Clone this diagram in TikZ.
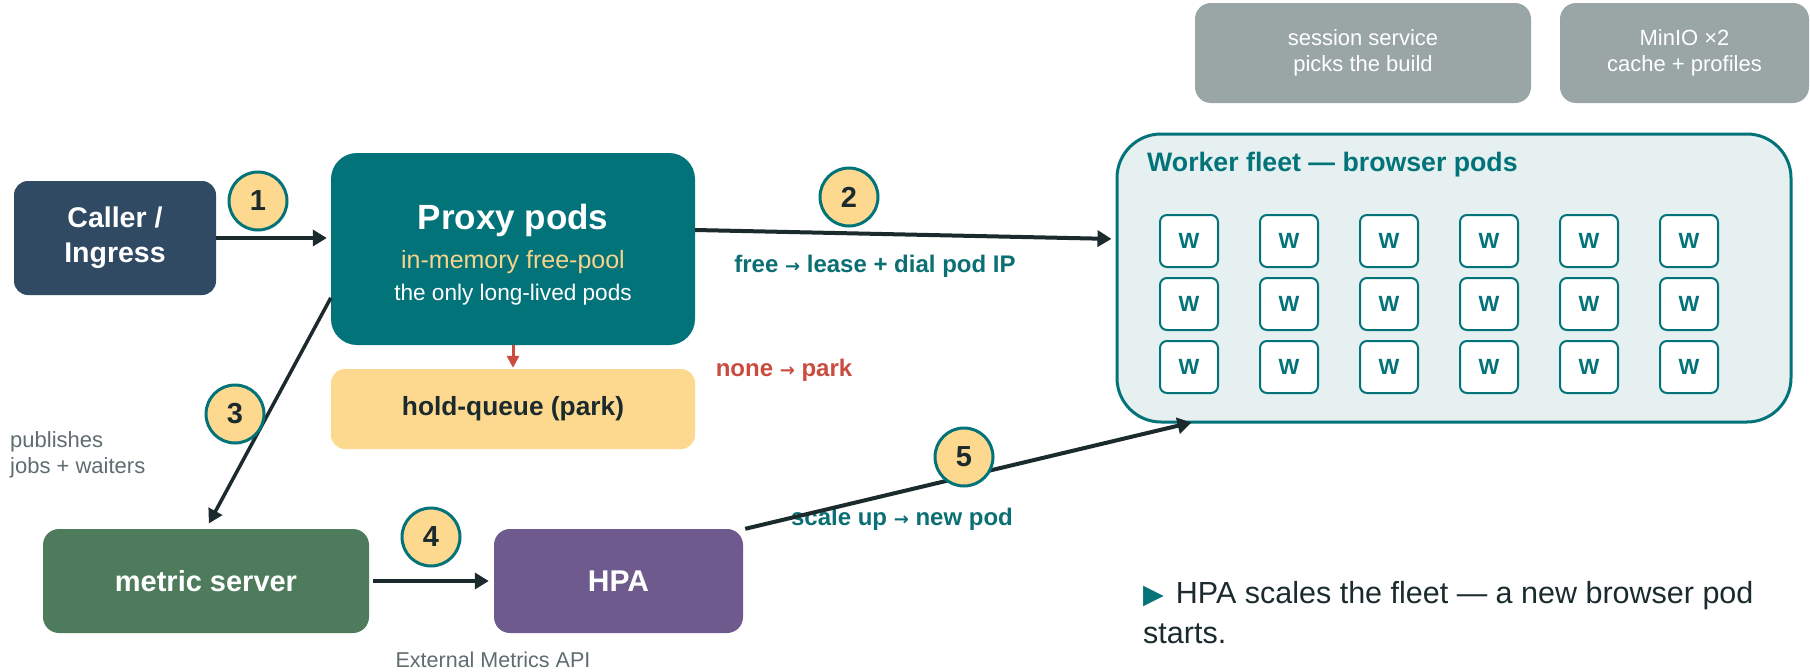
\documentclass[tikz,border=0pt]{standalone}
\usepackage{fontspec}
\setmainfont{Liberation Sans}
\newfontfamily\symfont{DejaVu Sans}
\usetikzlibrary{arrows.meta,calc}

\definecolor{callerC}{HTML}{2F4A62}
\definecolor{tealC}{HTML}{03737A}
\definecolor{yelC}{HTML}{FDD98F}
\definecolor{poolC}{HTML}{F8D38A}
\definecolor{inkC}{HTML}{1B2B2D}
\definecolor{redC}{HTML}{C94C3E}
\definecolor{fleetC}{HTML}{E6F0F0}
\definecolor{grayC}{HTML}{99A6A5}
\definecolor{greenC}{HTML}{4E7B5B}
\definecolor{purpC}{HTML}{6E5A8C}
\definecolor{mutedC}{HTML}{5F6D70}
\definecolor{labC}{HTML}{0B6F74}

\newcommand\fsz[2]{\fontsize{#1}{#2}\selectfont}
\newcommand\rarr{{\symfont\fsz{18}{18}→}}

\tikzset{
  box/.style={rounded corners=#1, inner sep=0pt, align=center},
  wbox/.style={draw=tealC, line width=2pt, fill=white, rounded corners=7pt,
    minimum width=58pt, minimum height=52pt, inner sep=0pt,
    text=tealC, font=\fsz{22}{26}\bfseries},
  stepnum/.style={circle, draw=tealC, line width=3pt, fill=yelC, minimum size=58pt,
    inner sep=0pt, text=inkC, font=\fsz{29}{30}\bfseries},
  arr/.style={draw=inkC, line width=4pt, -{Triangle[length=14pt,width=16pt]}},
  thinarr/.style={draw=inkC, line width=3.5pt, -{Triangle[length=14pt,width=15pt]}},
  redarr/.style={draw=redC, line width=3pt, -{Triangle[length=12pt,width=12pt]}},
  lab/.style={text=labC, font=\fsz{24}{28}\bfseries, inner sep=0pt},
  muted/.style={text=mutedC, font=\fsz{22}{26}, inner sep=0pt},
}

\begin{document}
\begin{tikzpicture}[x=1pt,y=-1pt]
\useasboundingbox[fill=white] (0,0) rectangle (1810,672);

% top gray boxes
\node[box=16pt, fill=grayC, minimum width=336pt, minimum height=100pt, text=white,
  font=\fsz{22}{26}] (session) at (1363,53) {session service\\picks the build};
\node[box=16pt, fill=grayC, minimum width=249pt, minimum height=100pt, text=white,
  font=\fsz{22}{26}] (minio) at (1684.5,53) {MinIO ×2\\cache + profiles};

% fleet
\node[box=44pt, draw=tealC, line width=3pt, fill=fleetC, minimum width=674pt,
  minimum height=288pt] (fleet) at (1454,278) {};
\node[anchor=west, inner sep=0pt, text=tealC, font=\fsz{26.7}{30}\bfseries]
  (fleettitle) at (1147,165) {Worker fleet — browser pods};
\foreach \r/\yy in {1/241,2/304,3/367}{
  \foreach \c in {0,...,5}{
    \node[wbox] (w\r\c) at ({1189+100*\c},\yy) {W};
  }
}

% left nodes
\node[box=14pt, fill=callerC, minimum width=202pt, minimum height=114pt, text=white,
  font=\fsz{28.5}{35}\bfseries] (caller) at (115,238) {Caller /\\Ingress};
\node[box=26pt, fill=tealC, minimum width=364pt, minimum height=192pt] (proxy) at (513,249) {};
\node[text=white, font=\fsz{35}{38}\bfseries, inner sep=0pt] (ptitle) at (513,220) {Proxy pods};
\node[text=poolC, font=\fsz{25}{28}, inner sep=0pt] (ppool) at (513,262) {in-memory free-pool};
\node[text=white, font=\fsz{22.6}{26}, inner sep=0pt] (plong) at (513,295) {the only long-lived pods};
\node[box=14pt, fill=yelC, minimum width=364pt, minimum height=80pt, text=inkC,
  font=\fsz{26.3}{30}\bfseries] (holdq) at (513,409) {hold-queue (park)};
\node[box=16pt, fill=greenC, minimum width=326pt, minimum height=104pt, text=white,
  font=\fsz{29}{32}\bfseries] (metric) at (206,581) {metric server};
\node[box=16pt, fill=purpC, minimum width=249pt, minimum height=104pt, text=white,
  font=\fsz{30}{32}\bfseries] (hpa) at (618.5,581) {HPA};

% labels
\node[lab] (l2) at (875,266) {free \rarr\ lease + dial pod IP};
\node[lab, text=redC] (lpark) at (784,370) {none \rarr\ park};
\node[lab] (l5) at (902,519) {scale up \rarr\ new pod};
\node[muted, anchor=west, align=left] (lpub) at (10,455) {publishes\\jobs + waiters};
\node[muted, font=\fsz{21.5}{26}] (lext) at (493,660) {External Metrics API};

% connectors
\draw[arr, shorten >=4pt] (caller.east) -- (caller.east -| proxy.west);
\draw[arr, shorten >=4pt] ([yshift=19pt]proxy.east) -- ([yshift=39pt]fleet.west);
\draw[thinarr, shorten >=6pt] (proxy.195) -- (metric.north);
\draw[redarr, shorten >=1pt] (proxy.south) -- (holdq.north);
\draw[arr, shorten <=4pt, shorten >=5pt] (metric.east) -- (hpa.west);
\draw[arr] ([xshift=2pt]hpa.north east) -- ([xshift=76pt,yshift=1pt]fleet.south west);

% step numbers
\node[stepnum] (s1) at (258,201) {1};
\node[stepnum] (s2) at (849,197) {2};
\node[stepnum] (s3) at (235,414) {3};
\node[stepnum] (s4) at (431,537) {4};
\node[stepnum] (s5) at (964,457) {5};

% bottom note
\node[anchor=north west, inner sep=0pt, align=left, text=inkC, font=\fsz{30.5}{40}]
  (note) at (1143,581) {{\color{tealC}\symfont\fsz{27}{27}▶}\hspace{12pt}HPA scales the fleet — a new browser pod\\starts.};
\end{tikzpicture}
\end{document}
